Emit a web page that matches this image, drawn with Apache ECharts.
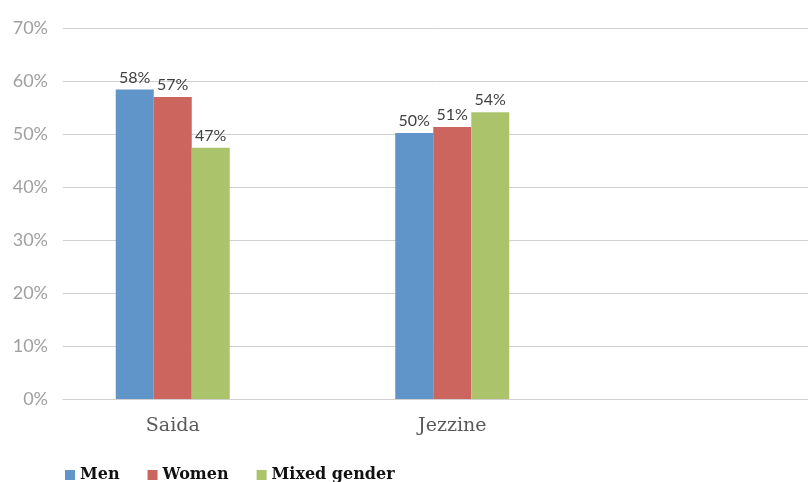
<!DOCTYPE html>
<html>
<head>
<meta charset="utf-8">
<script src="https://cdn.jsdelivr.net/npm/echarts@6/dist/echarts.min.js"></script>
<style>
  html, body { margin: 0; padding: 0; background: #fff; }
  #chart { width: 808px; height: 482px; }
</style>
</head>
<body>
<div id="chart"></div>
<script>
// values, in percent
const categories = ['Saida', 'Jezzine']
const menValues = [58.4, 50.2]
const womenValues = [57.0, 51.3]
const mixedValues = [47.4, 54.1]
const seriesNames = ['Men', 'Women', 'Mixed gender']
const seriesColors = ['#5f95c9', '#cc655e', '#abc46b']

const chart = echarts.init(document.getElementById('chart'))

const labelStyle = {
  show: true,
  position: 'top',
  distance: 4,
  color: '#404040',
  fontSize: 16,
  fontFamily: 'Lato',
  formatter: p => Math.round(p.value) + '%'
}

const makeBar = (name, data, color) => ({
  name,
  type: 'bar',
  xAxisIndex: 0,
  yAxisIndex: 0,
  data,
  barWidth: 38,
  barGap: '0%',
  itemStyle: { color },
  label: labelStyle
})

chart.setOption({
  animation: false,
  // grid 0 holds the bars, grid 1 just draws the y labels and gridlines
  grid: [
    { left: 33, top: 28, width: 559, bottom: 83 },
    { left: 63, top: 28, right: 0, bottom: 83 }
  ],
  legend: {
    left: 60,
    top: 462,
    icon: 'rect',
    itemWidth: 10,
    itemHeight: 10,
    itemGap: 28,
    textStyle: {
      fontFamily: 'DejaVu Serif',
      fontWeight: 'bold',
      fontSize: 16,
      color: '#111'
    },
    data: seriesNames
  },
  xAxis: [
    {
      type: 'category',
      gridIndex: 0,
      data: categories,
      axisLine: { show: false },
      axisTick: { show: false },
      axisLabel: {
        margin: 18,
        color: '#595959',
        fontSize: 19,
        fontFamily: 'DejaVu Serif'
      }
    },
    {
      type: 'value',
      gridIndex: 1,
      axisLine: { show: true, lineStyle: { color: '#d0d0d0', width: 1 } },
      axisTick: { show: false },
      axisLabel: { show: false },
      splitLine: { show: false }
    }
  ],
  yAxis: [
    {
      type: 'value',
      gridIndex: 0,
      min: 0,
      max: 70,
      interval: 10,
      show: false
    },
    {
      type: 'value',
      gridIndex: 1,
      min: 0,
      max: 70,
      interval: 10,
      axisLine: { show: false },
      axisTick: { show: false },
      axisLabel: {
        margin: 15,
        color: '#a0a0a0',
        fontSize: 18,
        fontFamily: 'Lato',
        formatter: v => v + '%'
      },
      splitLine: { lineStyle: { color: '#d0d0d0', width: 1 } }
    }
  ],
  series: [
    makeBar(seriesNames[0], menValues, seriesColors[0]),
    makeBar(seriesNames[1], womenValues, seriesColors[1]),
    makeBar(seriesNames[2], mixedValues, seriesColors[2])
  ]
})
</script>
</body>
</html>
